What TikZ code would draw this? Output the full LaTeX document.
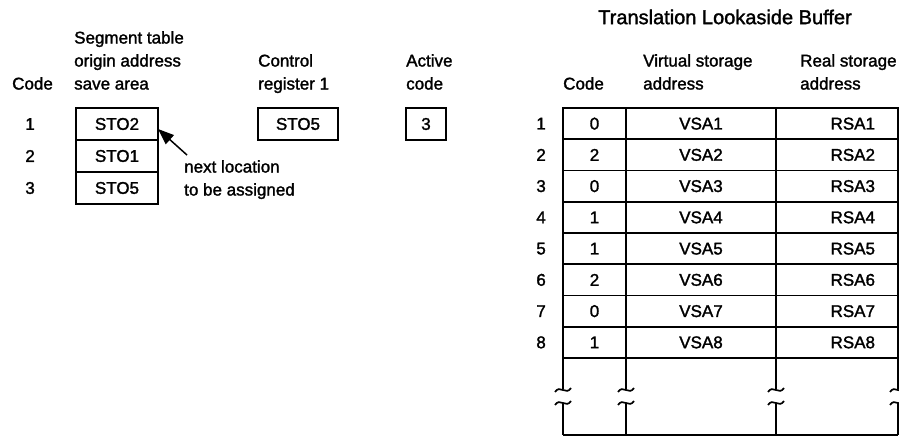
\documentclass[tikz,border=0pt]{standalone}
\usepackage{fontspec}
\setmainfont{Liberation Sans}
\newfontfamily\scanfont{Liberation Sans}[FakeBold=1.6]
\usetikzlibrary{positioning,arrows.meta}

\begin{document}
\begin{tikzpicture}[
  x=1pt, y=-1pt,
  font=\fontsize{17}{23}\scanfont,
  slot/.style={draw, line width=1.7pt, outer sep=0pt, inner sep=0pt, minimum height=32pt},
  tlbcell/.style={draw, line width=1.7pt, outer sep=0pt, inner sep=0pt, minimum height=31.25pt},
  head/.style={align=left, anchor=north west, inner sep=0pt},
  rownum/.style={inner sep=0pt},
  pointer/.style={-{Triangle[length=16pt,width=12pt]}, line width=1.5pt},
  rule/.style={line width=1.7pt},
  pics/wave/.style={code={\draw[rule] (-8,2) .. controls (-3,-6) and (3,6) .. (8,-2);}}
]
\useasboundingbox (0,0) rectangle (899,436);

% Save area, control register and active code
\node[head] (codehead) at (12,77) {Code};
\node[head] (savehead) at (74,31) {Segment table\\origin address\\save area};
\node[head] (ctrlhead) at (258,54) {Control\\register 1};
\node[head] (activehead) at (406,54) {Active\\code};

\node[slot, minimum width=82pt] (save1) at (117,124) {STO2};
\node[slot, minimum width=82pt, below=0pt of save1] (save2) {STO1};
\node[slot, minimum width=82pt, below=0pt of save2] (save3) {STO5};
\node[rownum, left=41pt of save1] (num1) {1};
\node[rownum, left=41pt of save2] (num2) {2};
\node[rownum, left=41pt of save3] (num3) {3};

\node[slot, minimum width=80pt] (ctrl) at (298,124) {STO5};
\node[slot, minimum width=40pt] (active) at (426,124) {3};

\node[head] (note) at (184,160) {next location\\to be assigned};
\draw[pointer] ([xshift=3pt, yshift=5pt]note.north west) -- ([yshift=-5pt]save1.east);

% Translation lookaside buffer
\node[font=\fontsize{20}{23}\scanfont] (tlbtitle) at (725,17) {Translation Lookaside Buffer};
\node[head] (tlbcode) at (563,77) {Code};
\node[head] (vsahead) at (643,54) {Virtual storage\\address};
\node[head] (rsahead) at (800,54) {Real storage\\address};

\foreach \c [count=\i] in {0,2,0,1,1,2,0,1} {
  \node[tlbcell, minimum width=63pt] (code\i) at (594.5, 92.375+31.25*\i) {\c};
  \node[tlbcell, minimum width=150pt] (vsa\i) at (701, 92.375+31.25*\i) {VSA\i};
  \node[tlbcell, minimum width=122pt, text width=76pt, align=right] (rsa\i) at (837, 92.375+31.25*\i) {RSA\i};
  \node[rownum, left=17pt of code\i] (tlbrow\i) {\i};
}

% broken columns below the last entry
\foreach \a/\n in {code8.south west/1, vsa8.south west/2, rsa8.south west/3, rsa8.south east/4} {
  \draw[rule] (\a) -- ++(0,31);
  \path (\a) ++(0,32) pic {wave};
  \path (\a) ++(0,45) pic {wave};
  \draw[rule] (\a) ++(0,45) -- ++(0,32) coordinate (foot\n);
}
\draw[rule] (foot1) -- (foot4);

\end{tikzpicture}
\end{document}
